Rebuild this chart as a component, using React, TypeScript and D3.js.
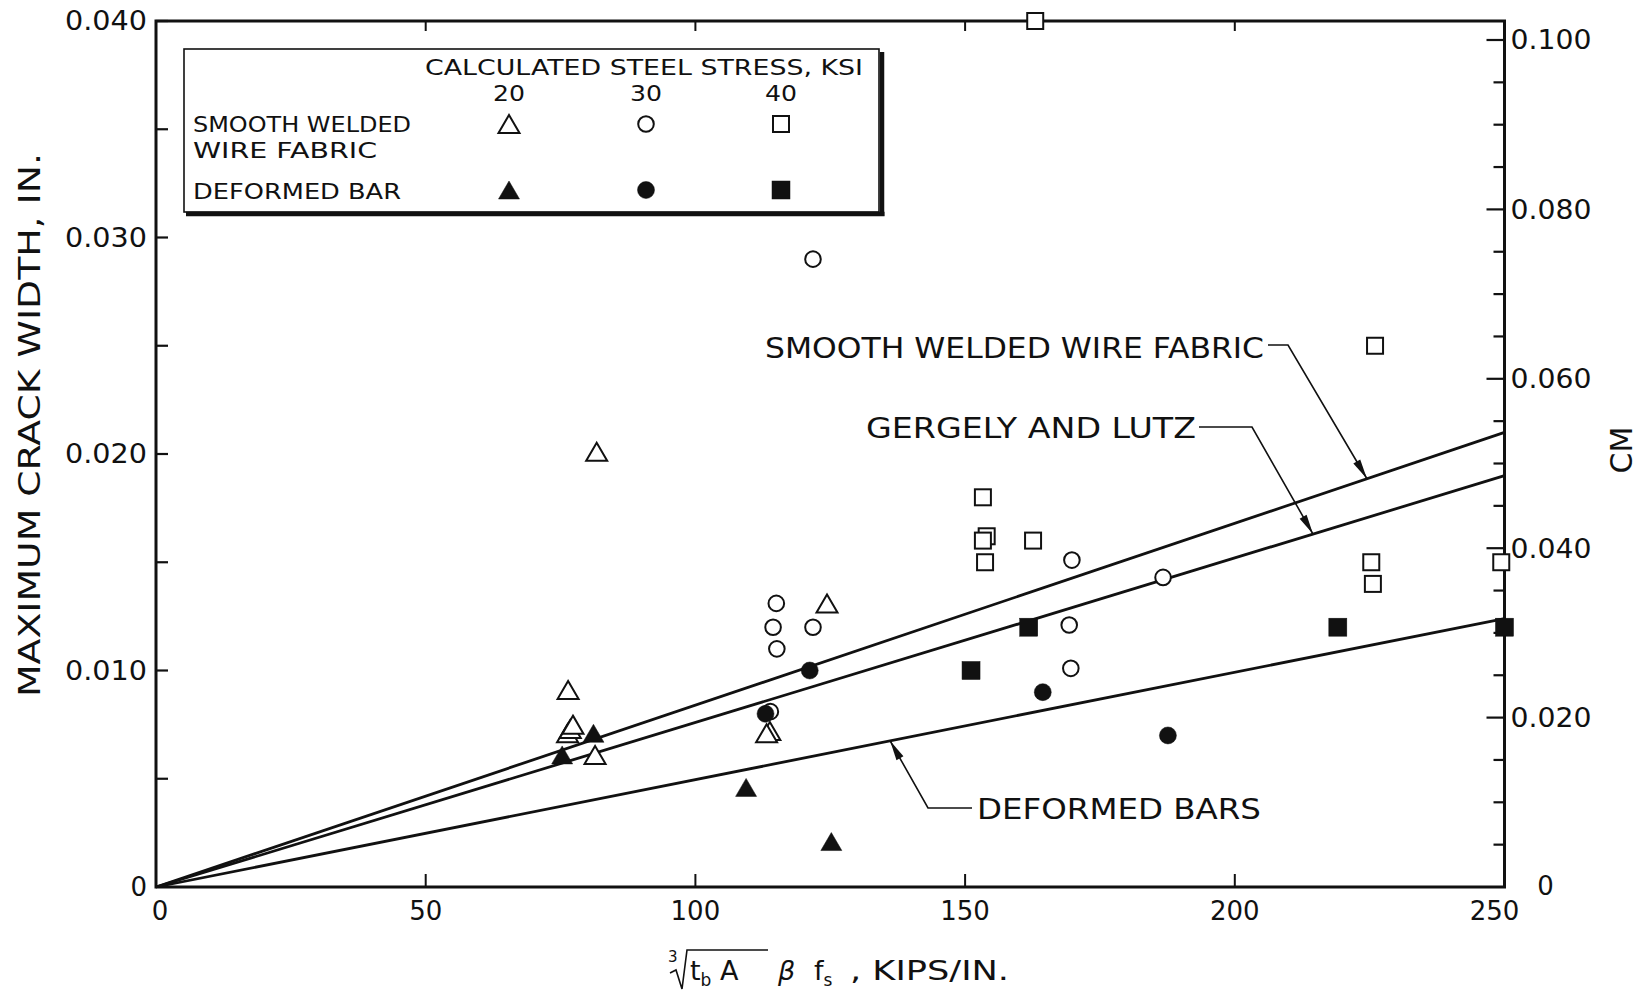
import React from "react";
import * as d3 from "d3";

const WIDTH = 1652;
const HEIGHT = 995;
const FONT = "'DejaVu Sans', 'Liberation Sans', sans-serif";
const INK = "#111";

// ---- values ----
const xTicks = [0, 50, 100, 150, 200, 250];
const xInnerTicks = [50, 100, 150, 200];
const inchTicks = [0, 0.01, 0.02, 0.03, 0.04];
const inchLabels = ["0", "0.010", "0.020", "0.030", "0.040"];
const cmTicks = [0, 0.02, 0.04, 0.06, 0.08, 0.1];
const cmLabels = ["0", "0.020", "0.040", "0.060", "0.080", "0.100"];
const stressKsi = ["20", "30", "40"];

// smooth welded wire fabric (open symbols) [x, crack width in.]
const wwf20 = [
  [76.4, 0.0091], [76.3, 0.0071], [76.8, 0.0073], [77.3, 0.0075], [81.4, 0.0061],
  [81.7, 0.0201], [124.4, 0.0131], [113.8, 0.0072], [113.2, 0.0071],
];
const wwf30 = [
  [121.8, 0.029], [115.0, 0.0131], [114.4, 0.012], [115.1, 0.011], [121.8, 0.012],
  [113.9, 0.0081], [169.8, 0.0151], [186.7, 0.0143], [169.3, 0.0121], [169.6, 0.0101],
];
const wwf40 = [
  [163.0, 0.04], [226.0, 0.025], [153.3, 0.018], [154.0, 0.0162], [153.3, 0.016],
  [162.6, 0.016], [153.7, 0.015], [225.3, 0.015], [225.6, 0.014], [249.4, 0.015],
];
// deformed bar (solid symbols)
const bar20 = [[75.3, 0.0061], [81.1, 0.0071], [109.4, 0.0046], [125.2, 0.0021]];
const bar30 = [[121.2, 0.01], [113.0, 0.008], [164.4, 0.009], [187.6, 0.007]];
const bar40 = [[151.1, 0.01], [161.8, 0.012], [219.1, 0.012], [250.0, 0.012]];

// straight-line predictions through the origin: width at x = 250
const lineNames = ["SMOOTH WELDED WIRE FABRIC", "GERGELY AND LUTZ", "DEFORMED BARS"];
const lineEnds = [0.021, 0.019, 0.0124];
const arrowAt = [224.5, 214.5, 136.1];

// scales
const x = d3.scaleLinear().domain([0, 250]).range([156, 1504.5]);
const y = d3.scaleLinear().domain([0, 0.04]).range([887, 21]);
const yCm = d3.scaleLinear().domain([0, 0.1]).range([887, 40]);

const tri = (cx: number, cy: number) => `M${cx},${cy - 9}L${cx + 10.5},${cy + 9}L${cx - 10.5},${cy + 9}Z`;

const Marker = ({ shape, filled, cx, cy }: { shape: string; filled: boolean; cx: number; cy: number }) => {
  const fill = filled ? INK : "#fff";
  const sw = filled ? 0.5 : 2;
  if (shape === "tri") return <path d={tri(cx, cy)} fill={fill} stroke={INK} strokeWidth={sw} />;
  if (shape === "circle") return <circle cx={cx} cy={cy} r={filled ? 8.5 : 7.8} fill={fill} stroke={INK} strokeWidth={sw} />;
  const s = filled ? 18 : 16;
  return <rect x={cx - s / 2} y={cy - s / 2} width={s} height={s} fill={fill} stroke={INK} strokeWidth={sw} />;
};

const series = [
  { data: wwf20, shape: "tri", filled: false },
  { data: wwf30, shape: "circle", filled: false },
  { data: wwf40, shape: "rect", filled: false },
  { data: bar20, shape: "tri", filled: true },
  { data: bar30, shape: "circle", filled: true },
  { data: bar40, shape: "rect", filled: true },
];

// annotation layout (text box and elbow of each leader)
const notes = [
  { x0: 765, len: 499, base: 358, elbow: [[1268, 345], [1288, 345]] },
  { x0: 866, len: 330, base: 438, elbow: [[1199, 427], [1252, 427]] },
  { x0: 977, len: 284, base: 819, elbow: [[972, 808], [928, 808]] },
];

const lineGen = d3.line<number[]>().x((d) => d[0]).y((d) => d[1]);

function arrowHead(from: number[], tip: number[]) {
  const dx = tip[0] - from[0];
  const dy = tip[1] - from[1];
  const L = Math.hypot(dx, dy);
  const ux = dx / L, uy = dy / L;
  const bx = tip[0] - ux * 20, by = tip[1] - uy * 20;
  const nx = -uy * 4, ny = ux * 4;
  return `M${tip[0]},${tip[1]}L${bx + nx},${by + ny}L${bx - nx},${by - ny}Z`;
}

export default function App() {
  const left = x(0), right = x(250), top = y(0.04), bottom = y(0);
  const inchMinor = d3.range(0.005, 0.04, 0.005);
  const cmMinor = d3.range(0.005, 0.1001, 0.005);
  const legendX = [509, 646, 781];

  return (
    <svg width={WIDTH} height={HEIGHT} style={{ position: "absolute", left: 0, top: 0, background: "#fff" }} fontFamily={FONT} fill={INK}>
      <rect width={WIDTH} height={HEIGHT} fill="#fff" />

      {/* frame */}
      <path d={`M${left},${top}H${right}V${bottom}H${left}Z`} fill="none" stroke={INK} strokeWidth={3} />

      {/* left ticks (inch) */}
      {inchMinor.map((v) => (
        <line key={"lt" + v} x1={left} x2={left + 12} y1={y(v)} y2={y(v)} stroke={INK} strokeWidth={2.2} />
      ))}
      {inchTicks.map((v, i) => (
        <text key={"ll" + v} x={left - 9} y={y(v)} dy="0.36em" textAnchor="end" fontSize={26}
          textLength={i === 0 ? undefined : 82} lengthAdjust="spacingAndGlyphs">{inchLabels[i]}</text>
      ))}

      {/* right ticks (cm) */}
      {cmMinor.map((v, i) => {
        const major = Math.abs(Math.round(v / 0.02) * 0.02 - v) < 1e-6;
        return <line key={"rt" + i} x1={right - (major ? 18 : 11)} x2={right} y1={yCm(v)} y2={yCm(v)} stroke={INK} strokeWidth={2.2} />;
      })}
      {cmTicks.map((v, i) =>
        i === 0 ? (
          <text key="rl0" x={right + 41} y={yCm(v)} dy="0.3em" textAnchor="middle" fontSize={26}>{cmLabels[i]}</text>
        ) : (
          <text key={"rl" + v} x={right + 6} y={yCm(v)} dy="0.36em" fontSize={26} textLength={81} lengthAdjust="spacingAndGlyphs">{cmLabels[i]}</text>
        )
      )}

      {/* top and bottom ticks */}
      {xInnerTicks.map((v) => (
        <g key={"xt" + v}>
          <line x1={x(v)} x2={x(v)} y1={top} y2={top + 10} stroke={INK} strokeWidth={2} />
          <line x1={x(v)} x2={x(v)} y1={bottom} y2={bottom - 13} stroke={INK} strokeWidth={2} />
        </g>
      ))}
      {xTicks.map((v) => (
        <text key={"xl" + v} x={x(v) + (v === 0 ? 4 : v === 250 ? -10 : 0)} y={bottom + 33} textAnchor="middle" fontSize={26}>{v}</text>
      ))}

      {/* axis titles */}
      <text transform={`translate(40,425) rotate(-90)`} textAnchor="middle" fontSize={30} textLength={544} lengthAdjust="spacingAndGlyphs">
        MAXIMUM CRACK WIDTH, IN.
      </text>
      <text transform={`translate(1632,450) rotate(-90)`} textAnchor="middle" fontSize={30}>CM</text>

      <g>
        <text x={668} y={962} fontSize={15}>3</text>
        <path d="M670,973L676,970L682,989L687,950L768,950" fill="none" stroke={INK} strokeWidth={1.6} />
        <text x={690} y={980} fontSize={27}>t<tspan fontSize={17} dy={6}>b</tspan><tspan dy={-6}> A</tspan></text>
        <text x={778} y={980} fontSize={27} fontStyle="italic">β</text>
        <text x={814} y={980} fontSize={27}>f<tspan fontSize={17} dy={6}>s</tspan></text>
        <text x={850} y={980} fontSize={27} textLength={159} lengthAdjust="spacingAndGlyphs">, KIPS/IN.</text>
      </g>

      {/* prediction lines */}
      {lineEnds.map((v, i) => (
        <path key={"ln" + i} d={lineGen([[x(0), y(0)], [x(250), y(v)]]) || ""} fill="none" stroke={INK} strokeWidth={2.8} />
      ))}

      {/* annotations */}
      {notes.map((n, i) => {
        const tip = [x(arrowAt[i]), y((lineEnds[i] / 250) * arrowAt[i])];
        const pts = [...n.elbow, tip];
        return (
          <g key={"an" + i}>
            <text x={n.x0} y={n.base} fontSize={29} textLength={n.len} lengthAdjust="spacingAndGlyphs">{lineNames[i]}</text>
            <path d={lineGen(pts) || ""} fill="none" stroke={INK} strokeWidth={1.6} />
            <path d={arrowHead(n.elbow[1], tip)} fill={INK} />
          </g>
        );
      })}

      {/* data points */}
      {series.map((s, si) =>
        s.data.map((d, i) => <Marker key={si + "-" + i} shape={s.shape} filled={s.filled} cx={x(d[0])} cy={y(d[1])} />)
      )}

      {/* legend */}
      <g>
        <rect x={184} y={49} width={695} height={163} fill="#fff" stroke={INK} strokeWidth={1.6} />
        <line x1={882} x2={882} y1={52} y2={216} stroke={INK} strokeWidth={4.5} />
        <line x1={186} x2={884.5} y1={214} y2={214} stroke={INK} strokeWidth={4.5} />
        <text x={425} y={75} fontSize={22} textLength={438} lengthAdjust="spacingAndGlyphs">CALCULATED STEEL STRESS, KSI</text>
        {stressKsi.map((k, i) => (
          <text key={"k" + k} x={legendX[i]} y={101} textAnchor="middle" fontSize={22} textLength={32} lengthAdjust="spacingAndGlyphs">{k}</text>
        ))}
        <text x={193} y={132} fontSize={22} textLength={218} lengthAdjust="spacingAndGlyphs">SMOOTH WELDED</text>
        <text x={193} y={158} fontSize={22} textLength={184} lengthAdjust="spacingAndGlyphs">WIRE FABRIC</text>
        <text x={193} y={199} fontSize={22} textLength={208} lengthAdjust="spacingAndGlyphs">DEFORMED BAR</text>
        {series.map((s, si) => (
          <Marker key={"lg" + si} shape={s.shape} filled={s.filled} cx={legendX[si % 3]} cy={si < 3 ? 124 : 190} />
        ))}
      </g>
    </svg>
  );
}
